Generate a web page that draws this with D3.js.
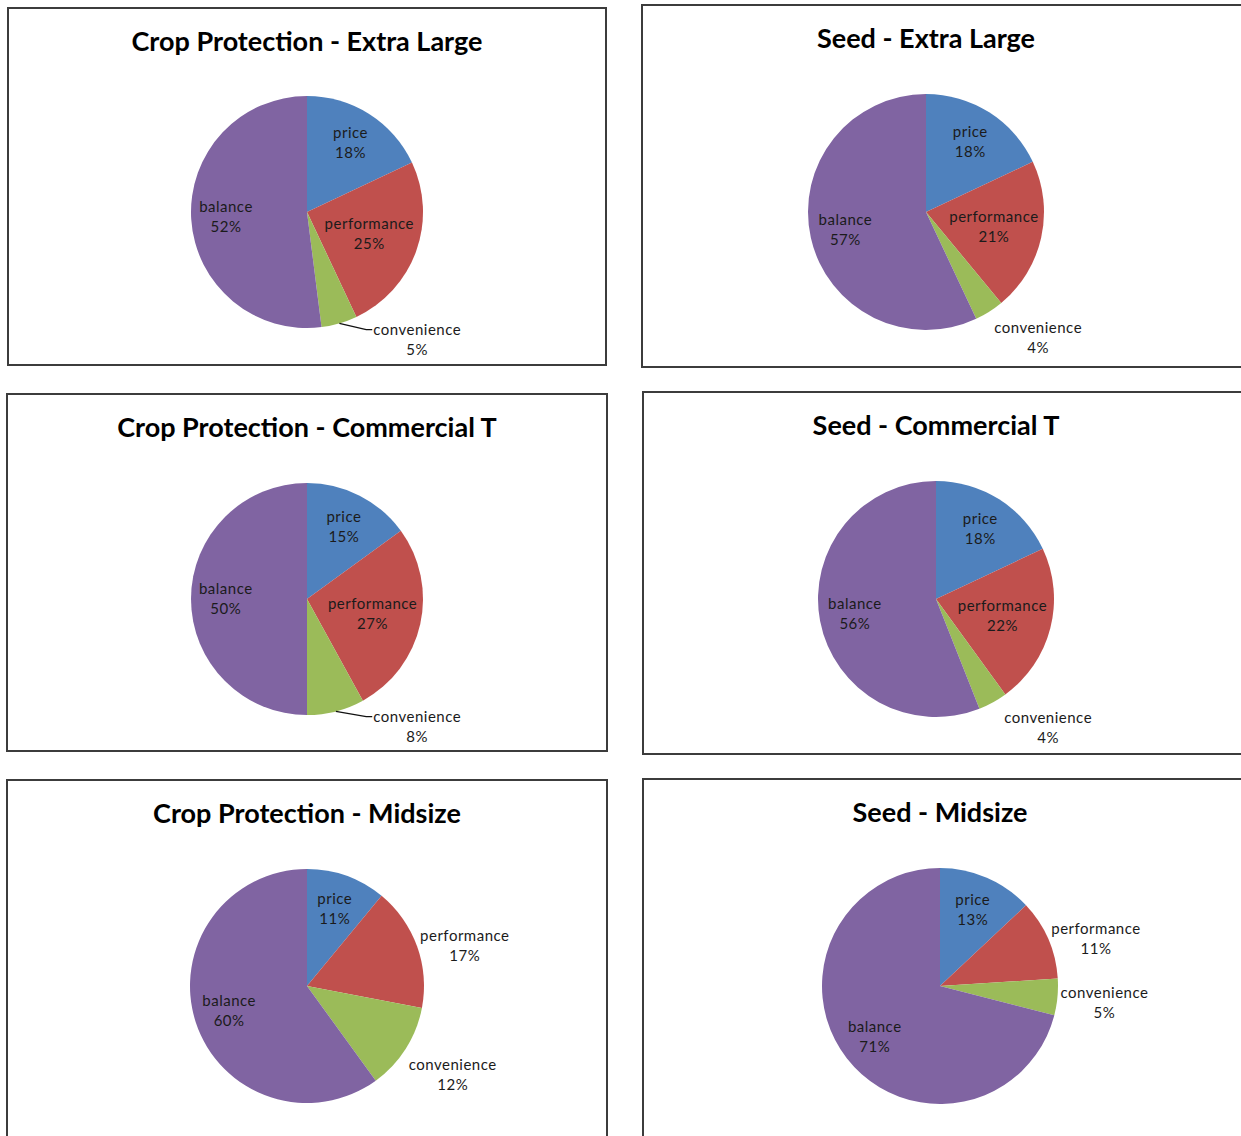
<!DOCTYPE html>
<html>
<head>
<meta charset="utf-8">
<script src="https://cdn.jsdelivr.net/npm/d3@7"></script>
<style>
body { margin: 0; background: #fff; }
text { font-family: Lato, "Open Sans", sans-serif; }
</style>
</head>
<body>
<div id="chart"></div>
<script>
// slice order is clockwise from 12 o'clock
const categories = ["price", "performance", "convenience", "balance"];
const sliceColors = ["#4F81BD", "#C0504D", "#9BBB59", "#8064A2"];

const titles = [
    "Crop Protection - Extra Large", "Seed - Extra Large",
    "Crop Protection - Commercial T", "Seed - Commercial T",
    "Crop Protection - Midsize", "Seed - Midsize"
];

// percent shares per chart
const cropExtraLarge = [18, 25, 5, 52];
const seedExtraLarge = [18, 21, 4, 57];
const cropCommercialT = [15, 27, 8, 50];
const seedCommercialT = [18, 22, 4, 56];
const cropMidsize = [11, 17, 12, 60];
const seedMidsize = [13, 11, 5, 71];

const allSeries = [cropExtraLarge, seedExtraLarge, cropCommercialT, seedCommercialT, cropMidsize, seedMidsize];

// panel frames and plot centres
const layout = [
    {x: 8,   y: 8,   w: 598, h: 357, cx: 307, cy: 212, r: 116},
    {x: 642, y: 5,   w: 640, h: 362, cx: 926, cy: 212, r: 118},
    {x: 7,   y: 394, w: 600, h: 357, cx: 307, cy: 599, r: 116},
    {x: 643, y: 392, w: 640, h: 362, cx: 936, cy: 599, r: 118},
    {x: 7,   y: 780, w: 600, h: 380, cx: 307, cy: 986, r: 117},
    {x: 643, y: 779, w: 640, h: 380, cx: 940, cy: 986, r: 118}
];

const svg = d3.select("#chart").append("svg")
    .attr("width", 1241)
    .attr("height", 1136)
    .style("display", "block");

const color = d3.scaleOrdinal(categories, sliceColors);
const pie = d3.pie().sort(null).value(d => d.value);

const drawPanel = (values, i) => {
    let p = layout[i];
    let g = svg.append("g");

    g.append("rect")
        .attr("x", p.x).attr("y", p.y)
        .attr("width", p.w).attr("height", p.h)
        .attr("fill", "#fff")
        .attr("stroke", "#3c3c3c")
        .attr("stroke-width", 2);

    g.append("text")
        .attr("x", p.cx)
        .attr("y", p.y + 43)
        .attr("text-anchor", "middle")
        .attr("font-size", 27)
        .attr("font-weight", 700)
        .attr("fill", "#000")
        .text(titles[i]);

    let arc = d3.arc().innerRadius(0).outerRadius(p.r);
    let plot = g.append("g").attr("transform", `translate(${p.cx},${p.cy})`);
    let arcs = pie(values.map((v, k) => ({name: categories[k], value: v})));

    plot.selectAll("path")
        .data(arcs)
        .join("path")
        .attr("d", arc)
        .attr("fill", d => color(d.data.name));

    arcs.forEach(d => {
        let lab = plot.append("text")
            .attr("font-size", 15)
            .attr("letter-spacing", 0.5)
            .attr("fill", "#1b1b1b")
            .attr("text-anchor", "middle");
        lab.append("tspan").attr("x", 0).attr("y", -5).text(d.data.name);
        lab.append("tspan").attr("x", 0).attr("y", 15).text(d.data.value + "%");

        let hw = lab.node().getBBox().width / 2, hh = 20;
        let mid = (d.startAngle + d.endAngle) / 2;
        let sweep = d.endAngle - d.startAngle;
        let s = Math.sin(mid), c = Math.cos(mid);
        let fits = 2 * 0.65 * p.r * Math.sin(Math.min(sweep, Math.PI) / 2) >= hw * 2;
        let x, y;

        if (fits) {
            // pull the label in until its box sits inside the circle
            let dist = 0.7 * p.r;
            while (dist > 0.4 * p.r && Math.hypot(Math.abs(s) * dist + hw, Math.abs(c) * dist + hh) > p.r) dist -= 1;
            x = s * dist;
            y = -c * dist;
        } else {
            let px = s * p.r, py = -c * p.r;
            let side = s >= 0 ? 1 : -1;
            x = px + side * (hw + 3);
            y = Math.min(py + Math.max(0, (hh + 6) * Math.min(1, -c * 2.5)), 1.1 * p.r);
            let minX = 0.95 * p.r;
            if (Math.abs(x) < minX) {
                let pushed = minX - Math.abs(x);
                x = side * minX;
                if (pushed > 10) {
                    let ex = x - side * (hw + 1), ey = y - 10;
                    plot.append("polyline")
                        .attr("points", [[px, py], [ex - side * 6, ey], [ex, ey]].map(q => q.join(",")).join(" "))
                        .attr("fill", "none")
                        .attr("stroke", "#111")
                        .attr("stroke-width", 1.2);
                }
            }
        }
        lab.attr("transform", `translate(${x},${y})`);
    });
};

allSeries.forEach(drawPanel);
</script>
</body>
</html>
